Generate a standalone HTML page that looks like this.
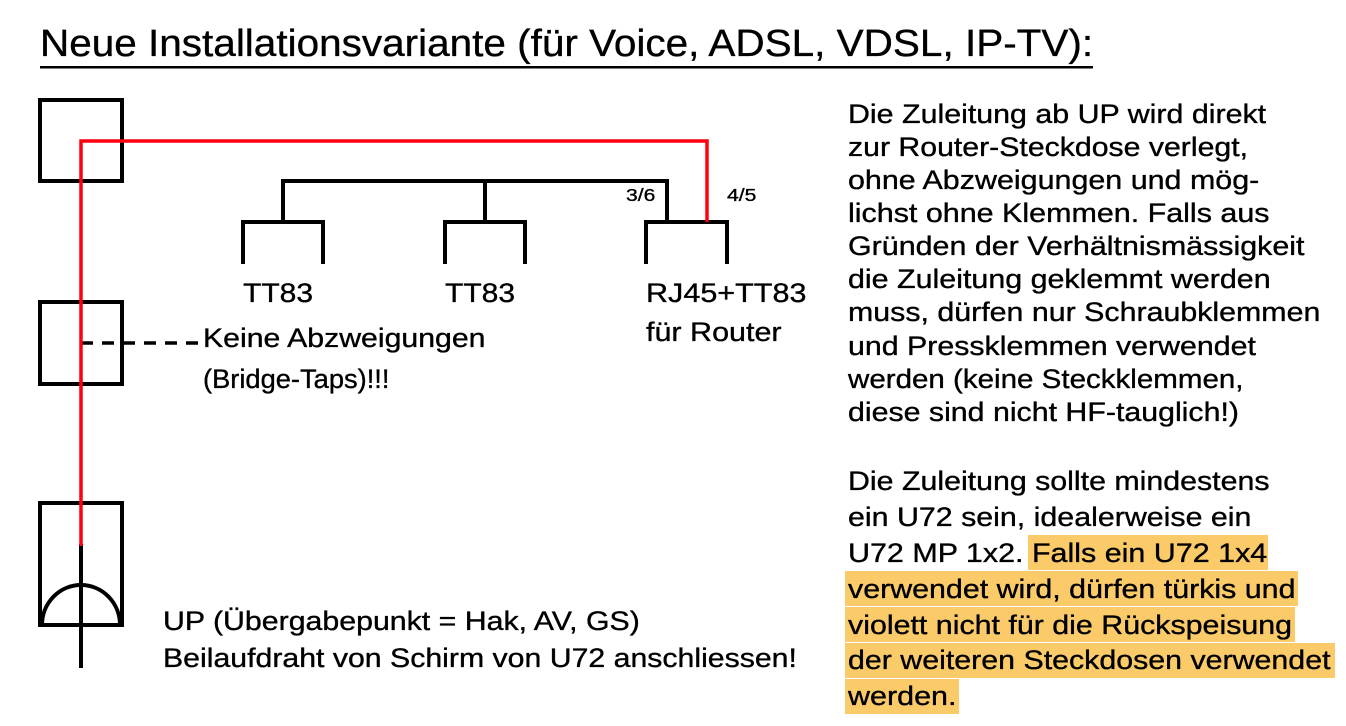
<!DOCTYPE html>
<html><head><meta charset="utf-8"><style>
html,body{margin:0;padding:0;background:#fff;}
svg{display:block;}
text{font-family:"Liberation Sans",Arial,sans-serif;fill:#000;stroke:#000;stroke-width:0.35px;}
</style></head><body>
<svg width="1346" height="726" viewBox="0 0 1346 726" xmlns="http://www.w3.org/2000/svg">
<text transform="translate(40,56) scale(1.13,1)" font-size="38" textLength="932" lengthAdjust="spacingAndGlyphs">Neue Installationsvariante (für Voice, ADSL, VDSL, IP-TV):</text>
<rect x="40" y="66" width="1053" height="2.5" fill="#000"/>

<g stroke="#000" stroke-width="4" fill="none" stroke-linecap="square">
  <rect x="40" y="100" width="82" height="81"/>
  <rect x="40" y="302" width="82" height="82"/>
  <rect x="40" y="503" width="82" height="122"/>
  <path d="M42,625 A39,40 0 0 1 120,625"/>
  <line x1="81" y1="546" x2="81" y2="666"/>
  <polyline points="283,221 283,181 667,181 667,221"/>
  <line x1="485" y1="181" x2="485" y2="221"/>
  <polyline points="243,262 243,222 323,222 323,262"/>
  <polyline points="445,262 445,222 525,222 525,262"/>
  <polyline points="646,262 646,222 727,222 727,262"/>
</g>
<line x1="81" y1="343" x2="203" y2="343" stroke="#000" stroke-width="3.5" stroke-dasharray="12,9"/>
<polyline points="81,546 81,141 707,141 707,222" stroke="#ff0010" stroke-width="3.5" fill="none"/>

<g font-size="27">
<text transform="translate(626,201) scale(1.13,1)" font-size="18" textLength="26" lengthAdjust="spacingAndGlyphs">3/6</text>
<text transform="translate(727,201) scale(1.13,1)" font-size="18" textLength="26" lengthAdjust="spacingAndGlyphs">4/5</text>
<text transform="translate(243,302) scale(1.13,1)" textLength="62" lengthAdjust="spacingAndGlyphs">TT83</text>
<text transform="translate(445,302) scale(1.13,1)" textLength="62" lengthAdjust="spacingAndGlyphs">TT83</text>
<text transform="translate(646,302) scale(1.13,1)" textLength="142" lengthAdjust="spacingAndGlyphs">RJ45+TT83</text>
<text transform="translate(646,341) scale(1.13,1)" textLength="120" lengthAdjust="spacingAndGlyphs">für Router</text>
<text transform="translate(203,347) scale(1.13,1)" textLength="250" lengthAdjust="spacingAndGlyphs">Keine Abzweigungen</text>
<text transform="translate(203,388) scale(1.13,1)" textLength="165" lengthAdjust="spacingAndGlyphs">(Bridge-Taps)!!!</text>
<text transform="translate(163,630) scale(1.13,1)" textLength="422" lengthAdjust="spacingAndGlyphs">UP (Übergabepunkt = Hak, AV, GS)</text>
<text transform="translate(163,667) scale(1.13,1)" textLength="561" lengthAdjust="spacingAndGlyphs">Beilaufdraht von Schirm von U72 anschliessen!</text>
</g>

<g font-size="26.5">
<text transform="translate(848,123) scale(1.13,1)" textLength="370" lengthAdjust="spacingAndGlyphs">Die Zuleitung ab UP wird direkt</text>
<text transform="translate(848,156) scale(1.13,1)" textLength="354" lengthAdjust="spacingAndGlyphs">zur Router-Steckdose verlegt,</text>
<text transform="translate(848,189) scale(1.13,1)" textLength="364" lengthAdjust="spacingAndGlyphs">ohne Abzweigungen und mög-</text>
<text transform="translate(848,222) scale(1.13,1)" textLength="373" lengthAdjust="spacingAndGlyphs">lichst ohne Klemmen. Falls aus</text>
<text transform="translate(848,255) scale(1.13,1)" textLength="404" lengthAdjust="spacingAndGlyphs">Gründen der Verhältnismässigkeit</text>
<text transform="translate(848,288) scale(1.13,1)" textLength="374" lengthAdjust="spacingAndGlyphs">die Zuleitung geklemmt werden</text>
<text transform="translate(848,321) scale(1.13,1)" textLength="418" lengthAdjust="spacingAndGlyphs">muss, dürfen nur Schraubklemmen</text>
<text transform="translate(848,355) scale(1.13,1)" textLength="361" lengthAdjust="spacingAndGlyphs">und Pressklemmen verwendet</text>
<text transform="translate(848,388) scale(1.13,1)" textLength="350" lengthAdjust="spacingAndGlyphs">werden (keine Steckklemmen,</text>
<text transform="translate(848,421) scale(1.13,1)" textLength="346" lengthAdjust="spacingAndGlyphs">diese sind nicht HF-tauglich!)</text>
</g>

<g fill="#fbcb6a">
<rect x="1028" y="535" width="240" height="35"/>
<rect x="845" y="571" width="453" height="35"/>
<rect x="845" y="607" width="450" height="35"/>
<rect x="845" y="643" width="490" height="35"/>
<rect x="845" y="679" width="114" height="35"/>
</g>
<g font-size="26.5">
<text transform="translate(848,490) scale(1.13,1)" textLength="373" lengthAdjust="spacingAndGlyphs">Die Zuleitung sollte mindestens</text>
<text transform="translate(848,526) scale(1.13,1)" textLength="357" lengthAdjust="spacingAndGlyphs">ein U72 sein, idealerweise ein</text>
<text transform="translate(848,562) scale(1.13,1)" textLength="371" lengthAdjust="spacingAndGlyphs">U72 MP 1x2. Falls ein U72 1x4</text>
<text transform="translate(848,598) scale(1.13,1)" textLength="396" lengthAdjust="spacingAndGlyphs">verwendet wird, dürfen türkis und</text>
<text transform="translate(848,634) scale(1.13,1)" textLength="393" lengthAdjust="spacingAndGlyphs">violett nicht für die Rückspeisung</text>
<text transform="translate(848,669) scale(1.13,1)" textLength="427" lengthAdjust="spacingAndGlyphs">der weiteren Steckdosen verwendet</text>
<text transform="translate(848,705) scale(1.13,1)" textLength="96" lengthAdjust="spacingAndGlyphs">werden.</text>
</g>
</svg>
</body></html>
